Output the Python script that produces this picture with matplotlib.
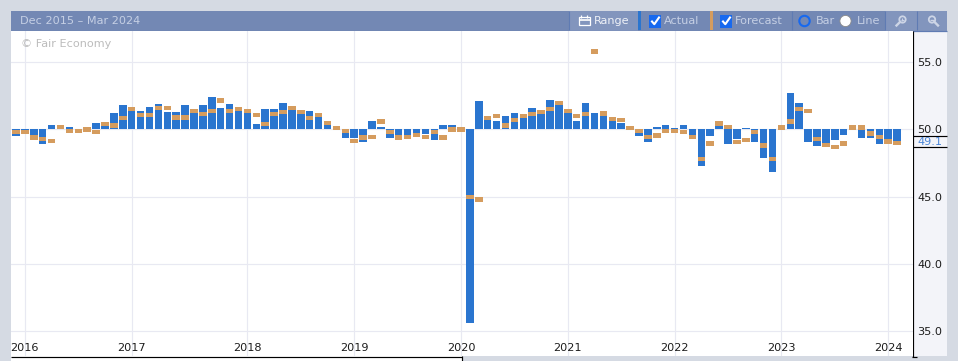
import matplotlib
matplotlib.use("Agg")
import matplotlib.pyplot as plt
from matplotlib.patches import Rectangle, Circle
import numpy as np

actual = [49.55, 49.7, 49.55, 48.9, 50.3, 50.1, 50.15, 50.0, 50.0, 50.45,
          50.3, 51.25, 51.8, 51.35, 51.35, 51.65, 51.9, 51.3, 51.3, 51.8,
          51.3, 51.8, 52.45, 51.6, 51.9, 51.35, 51.3, 50.4, 51.55, 51.5,
          51.95, 51.5, 51.2, 51.35, 50.9, 50.3, 50.0, 49.35, 49.4, 49.1,
          50.6, 50.15, 49.35, 49.5, 49.6, 49.7, 49.7, 49.2, 50.3, 50.3,
          50.0, 35.6, 52.1, 50.75, 50.65, 51.0, 51.2, 50.9, 51.6, 51.2,
          52.2, 51.8, 51.3, 50.65, 51.95, 51.2, 51.05, 50.65, 50.45, 50.0,
          49.5, 49.1, 50.15, 50.35, 50.1, 50.3, 49.6, 47.3, 49.5, 50.3,
          48.9, 49.3, 50.1, 49.1, 47.9, 46.85, 50.1, 52.7, 51.95, 49.1,
          48.75, 48.8, 49.2, 49.6, 50.1, 49.4, 49.35, 48.9, 49.2, 49.1]
forecast = [49.8, 49.8, 49.4, 49.3, 49.15, 50.2, 49.9, 49.9, 50.0, 49.8,
            50.4, 50.3, 50.85, 51.5, 51.1, 51.1, 51.6, 51.6, 50.9, 50.9,
            51.4, 51.15, 51.4, 52.15, 51.4, 51.5, 51.4, 51.1, 50.4, 51.15,
            51.3, 51.6, 51.3, 50.85, 51.1, 50.5, 50.1, 49.9, 49.15, 49.4,
            49.45, 50.6, 49.8, 49.4, 49.45, 49.6, 49.45, 49.8, 49.4, 50.0,
            50.0, 45.0, 44.8, 50.85, 51.0, 50.3, 50.7, 51.0, 51.15, 51.3,
            51.5, 51.95, 51.4, 51.0, 51.15, 55.8, 51.2, 50.8, 50.7, 50.1,
            49.9, 49.45, 49.55, 49.9, 49.9, 49.8, 49.45, 47.8, 48.95, 50.45,
            50.2, 49.05, 49.2, 49.8, 48.8, 47.8, 50.15, 50.6, 51.5, 51.35,
            49.3, 48.85, 48.7, 48.95, 50.15, 50.15, 49.7, 49.45, 49.1, 49.0]
year_labels = ["2016", "2017", "2018", "2019", "2020", "2021", "2022", "2023", "2024"]
year_bar_index = [1, 13, 26, 38, 50, 62, 74, 86, 98]
value_ticks = [35.0, 40.0, 45.0, 50.0, 55.0]
baseline = 50.0
title = "Dec 2015 – Mar 2024"
watermark = "© Fair Economy"

W, H = 958, 361
BG = "#d5dae3"
BLUE = "#2a75cf"
ORANGE = "#d59c5e"
GRID = "#e8e9f2"
HEAD = "#7388b4"
HEAD_LT = "#8295bd"
HEAD_LINE = "#5f7bb3"
TXT = "#c5cfe4"
ICON = "#cdd5e6"
FONT = "DejaVu Sans"
FS = 8.1

plt.rcParams["font.family"] = FONT
fig = plt.figure(figsize=(W / 100, H / 100), dpi=100, facecolor=BG)

# chrome, in pixel coordinates
ch = fig.add_axes([0, 0, 1, 1], zorder=0)
ch.set_xlim(0, W)
ch.set_ylim(H, 0)
ch.axis("off")


def rect(x0, y0, x1, y1, color, z=1):
    ch.add_patch(Rectangle((x0, y0), x1 - x0, y1 - y0, fc=color, ec="none", zorder=z))


def hline(x0, x1, y, color="black", lw=0.75, z=3):
    ch.plot([x0, x1], [y, y], color=color, lw=lw, zorder=z, solid_capstyle="butt")


def vline(x, y0, y1, color="black", lw=0.75, z=3):
    ch.plot([x, x], [y0, y1], color=color, lw=lw, zorder=z, solid_capstyle="butt")


rect(11, 11, 947, 30.5, HEAD)
rect(569, 11, 638, 30.5, HEAD_LT)
rect(885, 11, 947, 30.5, HEAD_LT)
hline(11, 947, 30.5, HEAD_LINE, 0.9)
for sx in (569, 792, 885, 917):
    vline(sx, 11, 30, HEAD_LINE, 0.8)
rect(638, 11, 641.5, 30, BLUE, 2)
rect(710, 11, 713, 30, ORANGE, 2)

ch.text(20, 21, title, color=TXT, fontsize=FS, va="center", ha="left")
ch.text(594, 21, "Range", color="#eef1f7", fontsize=FS, va="center", ha="left")
ch.text(664, 21, "Actual", color=TXT, fontsize=FS, va="center", ha="left")
ch.text(735, 21, "Forecast", color=TXT, fontsize=FS, va="center", ha="left")
ch.text(816, 21, "Bar", color=TXT, fontsize=FS, va="center", ha="left")
ch.text(857, 21, "Line", color=TXT, fontsize=FS, va="center", ha="left")

# range icon
ch.add_patch(Rectangle((579, 17), 11, 8, fc="none", ec="white", lw=0.9, zorder=3))
hline(579, 590, 19.5, "white", 1.2)
for tx in (581.5, 587.5):
    vline(tx, 15, 18, "white", 0.9)

# check boxes
for bx in (649, 720):
    ch.add_patch(Rectangle((bx, 15), 12.5, 12.5, fc="#1769ef", ec="none", zorder=3))
    ch.plot([bx + 3, bx + 5.3, bx + 10], [21.5, 24.2, 17.5], color="white", lw=1.5, zorder=4)

# radio buttons
ch.add_patch(Circle((804.5, 21), 5.2, fc=HEAD, ec="#1769ef", lw=1.5, zorder=3))
ch.add_patch(Circle((845.5, 21), 5.6, fc="white", ec="#8a8a8a", lw=0.6, zorder=3))

# zoom icons
ch.add_patch(Circle((902.5, 19.5), 3.2, fc="none", ec=ICON, lw=1.3, zorder=3))
ch.plot([900, 896.5], [22, 25.5], color=ICON, lw=1.7, zorder=3)
hline(900.8, 904.2, 19.5, ICON, 0.8)
vline(902.5, 17.8, 21.2, ICON, 0.8)
ch.add_patch(Circle((932, 19.5), 3.2, fc="none", ec=ICON, lw=1.3, zorder=3))
ch.plot([934.5, 938], [22, 25.5], color=ICON, lw=1.7, zorder=3)
hline(930, 934, 19.5, ICON, 1.0)

# value panel and lower strips
rect(913, 31, 947, 356, "#f3f4f9")
vline(912.7, 31, 356.5, "black", 0.85)
hline(913, 947, 135.5, "black", 0.85)
hline(913, 947, 146.5, "black", 0.85)
rect(11, 356, 462, H, "white")
hline(11, 462.5, 356.5, "black", 0.85)
vline(462.2, 356, H, "black", 0.85)
hline(912.5, 917.5, 356.5, "black", 0.85)

# chart area
L, R, T, B = 11, 912.5, 31, 356
ax = fig.add_axes([L / W, 1 - B / H, (R - L) / W, (B - T) / H], zorder=1, facecolor="white")
step = 8.9
first = 16.0
ax.set_xlim((L - first) / step, (R - first) / step)
ppu = 13.45
ax.set_ylim(baseline - (B - 129.5) / ppu, baseline + (129.5 - T) / ppu)

idx = np.arange(len(actual))
a = np.array(actual)
f = np.array(forecast)
ax.set_axisbelow(True)
ax.grid(True, color=GRID, lw=0.85)
ax.bar(idx, a - baseline, bottom=baseline, width=0.85, color=BLUE, lw=0, zorder=2)
ax.bar(idx, 0.32, bottom=f - 0.16, width=0.85, color=ORANGE, lw=0, zorder=3)

ax.set_xticks(year_bar_index, year_labels)
ax.set_yticks(value_ticks, [f"{v:.1f}" for v in value_ticks])
ax.yaxis.tick_right()
ax.tick_params(axis="both", length=0, labelsize=FS, labelcolor="#1c1c1c")
ax.tick_params(axis="y", pad=3.6)
ax.tick_params(axis="x", pad=-9.3)
for s in ax.spines.values():
    s.set_visible(False)

ax.text(21, 44, watermark, transform=ch.transData, color="#bcbcbc", fontsize=FS,
        va="center", ha="left", zorder=5)
ax.annotate(f"{actual[-1]:.1f}", xy=(1, actual[-1]), xycoords=ax.get_yaxis_transform(),
            xytext=(3.6, 0), textcoords="offset points", color="#4a86d8", fontsize=FS,
            va="center", ha="left", annotation_clip=False)

fig.savefig("out.png", dpi=100, facecolor=BG)
